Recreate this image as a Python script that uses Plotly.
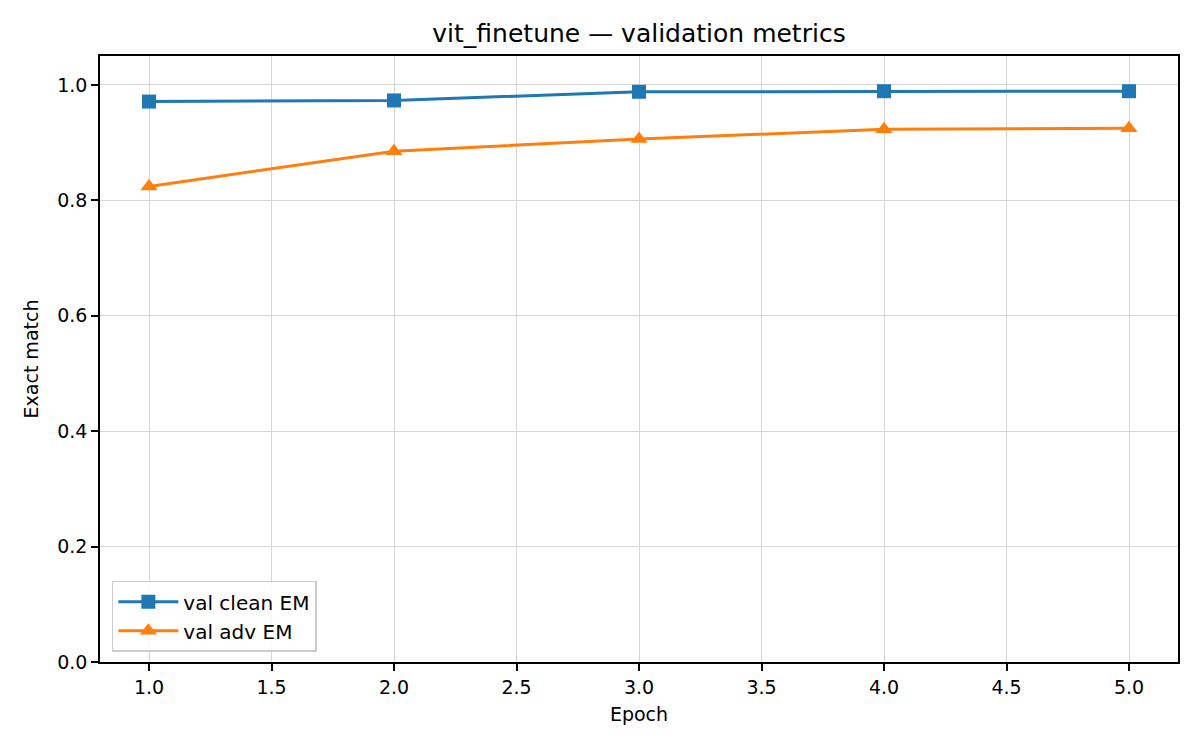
import plotly.graph_objects as go

# data
epochs = [1, 2, 3, 4, 5]
val_clean_em = [0.971, 0.973, 0.988, 0.989, 0.989]
val_adv_em = [0.824, 0.885, 0.906, 0.923, 0.925]
x_ticks = [1.0, 1.5, 2.0, 2.5, 3.0, 3.5, 4.0, 4.5, 5.0]
y_ticks = [0.0, 0.2, 0.4, 0.6, 0.8, 1.0]

BLUE = "#1f77b4"
ORANGE = "#ff7f0e"
GRID = "#d6d6d6"
FONT = "DejaVu Sans, sans-serif"

fig = go.Figure()
fig.add_trace(go.Scatter(
    x=epochs, y=val_clean_em, mode="lines+markers", name="val clean EM",
    line=dict(color=BLUE, width=3),
    marker=dict(symbol="square", size=14, color=BLUE),
))
fig.add_trace(go.Scatter(
    x=epochs, y=val_adv_em, mode="lines+markers", name="val adv EM",
    line=dict(color=ORANGE, width=3),
    marker=dict(symbol="triangle-up", size=15, color=ORANGE),
))

axis_common = dict(
    showline=True, linecolor="black", linewidth=1.5, mirror=True,
    showgrid=True, gridcolor=GRID, gridwidth=1.3,
    ticks="outside", ticklen=7, tickcolor="black", tickwidth=1.5,
    zeroline=False, tickfont=dict(size=19, color="black"),
    tickformat=".1f",
)

fig.update_layout(
    width=1200, height=750,
    paper_bgcolor="white", plot_bgcolor="white",
    font=dict(family=FONT, color="black", size=19),
    margin=dict(l=92, r=30, t=48, b=96),
    title=dict(text="vit_finetune \u2014 validation metrics", x=0.5, xref="paper",
               xanchor="center", y=0.967, yref="container", yanchor="middle",
               font=dict(size=25, color="black")),
    xaxis=dict(range=[0.8, 5.2], tickvals=x_ticks,
               title=dict(text="Epoch", standoff=11, font=dict(size=19)),
               **axis_common),
    yaxis=dict(range=[0, 1.05], tickvals=y_ticks,
               title=dict(text="Exact match", standoff=14, font=dict(size=19)),
               **axis_common),
    showlegend=True,
    legend=dict(x=0.011, y=0.017, xanchor="left", yanchor="bottom",
                bgcolor="rgba(255,255,255,0.8)", bordercolor="#cccccc", borderwidth=1.5,
                font=dict(size=20), tracegroupgap=2, itemwidth=60),
)

fig.write_html("out.html")
